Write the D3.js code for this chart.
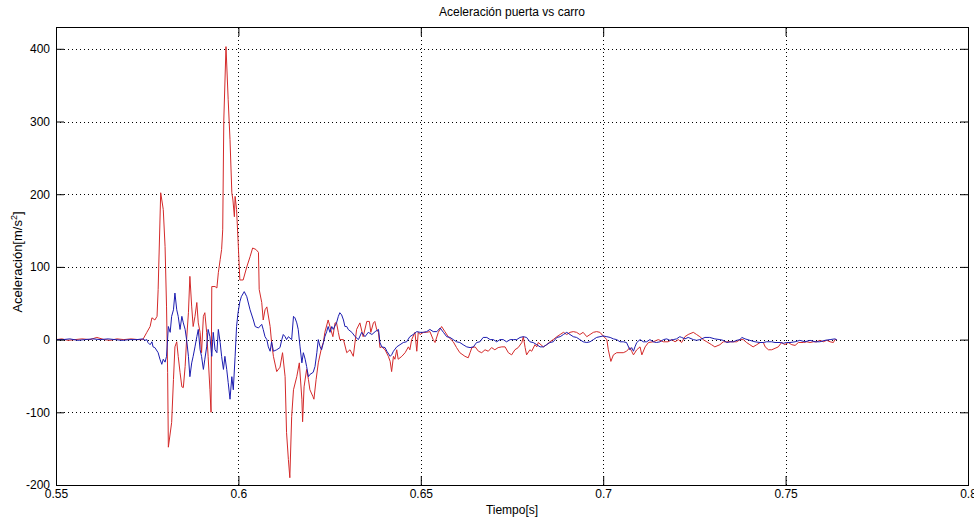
<!DOCTYPE html>
<html>
<head>
<meta charset="utf-8">
<script src="https://cdn.jsdelivr.net/npm/d3@7"></script>
<style>
  body { margin: 0; background: #fff; }
  svg text { font-family: "Liberation Sans Narrow", "Arial Narrow", "Liberation Sans", Arial, sans-serif; fill: #000; }
</style>
</head>
<body>
<svg id="svg"></svg>
<script>
// tick values
const xTicks = [0.55, 0.6, 0.65, 0.7, 0.75, 0.8];
const yTicks = [-200, -100, 0, 100, 200, 300, 400];

// carro (red)
const timeRed = [0.5500,0.5516,0.5533,0.5552,0.5571,0.5593,0.5612,0.5632,0.5648,0.5667,0.5686,0.5706,0.5725,0.5738,
  0.5749,0.5758,0.5763,0.5771,0.5777,0.5780,0.5787,0.5794,0.5799,0.5803,0.5806,0.5808,0.5817,0.5822,0.5826,0.5831,
  0.5835,0.5840,0.5845,0.5849,0.5854,0.5858,0.5863,0.5867,0.5872,0.5876,0.5881,0.5886,0.5890,0.5895,0.5899,0.5904,
  0.5908,0.5913,0.5917,0.5922,0.5925,0.5927,0.5936,0.5941,0.5945,0.5950,0.5954,0.5957,0.5960,0.5966,0.5972,0.5977,
  0.5982,0.5985,0.5989,0.5991,0.5995,0.5999,0.6004,0.6013,0.6023,0.6032,0.6039,0.6048,0.6055,0.6057,0.6064,0.6068,
  0.6073,0.6078,0.6087,0.6091,0.6096,0.6105,0.6114,0.6121,0.6128,0.6132,0.6137,0.6141,0.6146,0.6151,0.6160,0.6167,
  0.6174,0.6176,0.6180,0.6187,0.6192,0.6196,0.6204,0.6207,0.6213,0.6219,0.6228,0.6233,0.6237,0.6246,0.6251,0.6259,
  0.6265,0.6269,0.6274,0.6278,0.6288,0.6297,0.6306,0.6315,0.6324,0.6333,0.6342,0.6352,0.6359,0.6363,0.6370,0.6374,
  0.6379,0.6384,0.6388,0.6393,0.6402,0.6411,0.6416,0.6420,0.6425,0.6429,0.6434,0.6438,0.6448,0.6457,0.6466,0.6470,
  0.6475,0.6484,0.6489,0.6493,0.6498,0.6507,0.6516,0.6525,0.6534,0.6539,0.6548,0.6557,0.6566,0.6575,0.6589,0.6598,
  0.6607,0.6621,0.6630,0.6635,0.6640,0.6649,0.6658,0.6667,0.6676,0.6685,0.6694,0.6703,0.6712,0.6722,0.6731,0.6740,
  0.6749,0.6758,0.6767,0.6777,0.6781,0.6786,0.6790,0.6799,0.6804,0.6813,0.6818,0.6822,0.6836,0.6845,0.6854,0.6863,
  0.6873,0.6882,0.6891,0.6900,0.6909,0.6918,0.6927,0.6936,0.6945,0.6955,0.6964,0.6973,0.6982,0.6991,0.7000,0.7010,
  0.7014,0.7021,0.7028,0.7037,0.7046,0.7055,0.7064,0.7073,0.7078,0.7083,0.7092,0.7101,0.7106,0.7115,0.7124,0.7137,
  0.7151,0.7165,0.7178,0.7188,0.7197,0.7206,0.7215,0.7224,0.7233,0.7247,0.7256,0.7265,0.7274,0.7284,0.7297,0.7306,
  0.7320,0.7329,0.7339,0.7348,0.7366,0.7375,0.7384,0.7393,0.7402,0.7411,0.7421,0.7430,0.7439,0.7444,0.7453,0.7462,
  0.7471,0.7480,0.7489,0.7498,0.7507,0.7517,0.7526,0.7535,0.7549,0.7558,0.7567,0.7576,0.7585,0.7594,0.7603,0.7613,
  0.7622,0.7631,0.7635,0.7640];
const accRed = [0,1,-1,0,1,0,3,0,-1,1,0,1,0,0,
  10,18,30,27,32,69,202,179,128,45,-45,-148,-114,-55,-10,-3,
  -23,-45,-65,-66,-37,0,37,87,45,18,32,51,23,10,-18,32,
  37,10,-23,-69,-100,73,73,71,92,110,124,151,302,403,330,275,
  202,192,169,197,179,137,82,82,100,114,126,124,120,69,51,27,
  41,45,18,-4,-23,-44,-38,-18,-51,-128,-165,-190,-106,-69,-51,-32,
  -82,-113,-65,-41,-55,-69,-78,-82,-55,-32,-11,-4,10,27,18,4,
  23,23,10,0,0,-18,-14,-23,14,23,4,25,25,10,23,25,
  14,10,-11,-10,-14,-23,-30,-44,-23,-27,-14,-27,-23,-18,-10,-14,
  0,10,-16,10,7,10,10,11,0,-4,10,18,11,4,-3,-11,
  -18,-23,-25,-18,-11,-10,-16,-18,-14,-16,-11,-14,-11,-10,-10,-18,
  -21,-14,-11,-4,4,-11,-21,-14,-16,-7,-10,-4,-10,-7,-3,0,
  4,7,10,7,10,11,10,7,10,4,7,10,11,10,5,0,
  -14,-30,-21,-18,-18,-18,-16,-11,-16,-21,-14,-10,-21,-10,-4,-3,
  0,-3,-3,0,-3,0,-4,4,7,10,7,4,0,-3,-7,-10,
  -7,-3,-3,-3,-3,0,0,-4,-7,-10,-7,-4,-4,-10,-14,-14,
  -12,-10,-4,-7,-4,-7,-8,-4,-4,-3,-4,-3,-3,-1,-3,-1,
  -3,-4,0,0];

// puerta (blue)
const timeBlue = [0.5500,0.5519,0.5538,0.5560,0.5579,0.5601,0.5621,0.5643,0.5662,0.5681,0.5703,0.5722,0.5738,0.5744,
  0.5749,0.5752,0.5758,0.5763,0.5766,0.5771,0.5780,0.5785,0.5790,0.5794,0.5799,0.5803,0.5808,0.5813,0.5817,0.5822,
  0.5826,0.5831,0.5835,0.5840,0.5845,0.5849,0.5854,0.5858,0.5863,0.5867,0.5872,0.5876,0.5881,0.5886,0.5890,0.5895,
  0.5899,0.5904,0.5908,0.5913,0.5917,0.5922,0.5927,0.5931,0.5936,0.5941,0.5945,0.5950,0.5954,0.5959,0.5963,0.5968,
  0.5972,0.5977,0.5982,0.5986,0.5991,0.5995,0.5999,0.6004,0.6008,0.6016,0.6023,0.6032,0.6041,0.6046,0.6055,0.6064,
  0.6068,0.6073,0.6078,0.6082,0.6087,0.6091,0.6096,0.6105,0.6114,0.6119,0.6123,0.6128,0.6132,0.6137,0.6146,0.6151,
  0.6155,0.6160,0.6164,0.6169,0.6174,0.6178,0.6183,0.6187,0.6192,0.6196,0.6205,0.6210,0.6215,0.6219,0.6224,0.6228,
  0.6233,0.6237,0.6242,0.6246,0.6251,0.6256,0.6260,0.6269,0.6274,0.6278,0.6283,0.6288,0.6292,0.6297,0.6301,0.6311,
  0.6320,0.6329,0.6338,0.6347,0.6356,0.6366,0.6375,0.6384,0.6388,0.6393,0.6402,0.6407,0.6416,0.6420,0.6425,0.6434,
  0.6443,0.6452,0.6461,0.6470,0.6479,0.6489,0.6498,0.6507,0.6516,0.6525,0.6534,0.6544,0.6553,0.6562,0.6571,0.6580,
  0.6589,0.6598,0.6607,0.6616,0.6626,0.6635,0.6644,0.6653,0.6662,0.6671,0.6681,0.6690,0.6699,0.6708,0.6717,0.6726,
  0.6735,0.6745,0.6754,0.6763,0.6772,0.6781,0.6790,0.6799,0.6808,0.6818,0.6827,0.6836,0.6845,0.6854,0.6863,0.6873,
  0.6882,0.6891,0.6900,0.6909,0.6918,0.6927,0.6936,0.6945,0.6955,0.6964,0.6973,0.6982,0.6991,0.7000,0.7010,0.7019,
  0.7028,0.7037,0.7046,0.7055,0.7064,0.7073,0.7078,0.7083,0.7087,0.7092,0.7101,0.7110,0.7119,0.7128,0.7137,0.7146,
  0.7156,0.7165,0.7174,0.7183,0.7192,0.7201,0.7210,0.7215,0.7224,0.7233,0.7247,0.7256,0.7265,0.7279,0.7292,0.7306,
  0.7320,0.7329,0.7339,0.7348,0.7357,0.7366,0.7375,0.7380,0.7389,0.7402,0.7416,0.7430,0.7439,0.7448,0.7462,0.7471,
  0.7485,0.7494,0.7503,0.7512,0.7526,0.7539,0.7553,0.7567,0.7581,0.7594,0.7608,0.7622,0.7635,0.7640];
const accBlue = [0,0,1,-1,0,1,0,1,0,-1,0,0,1,-1,
  0,-4,-7,-3,-10,-11,-18,-27,-34,-27,-31,-23,18,10,32,41,
  64,41,32,14,32,23,14,0,-23,-51,-32,-23,-10,4,14,-14,
  -23,-41,-27,-10,14,4,-23,10,-14,-18,14,-4,-23,-41,-23,-41,
  -59,-82,-51,-69,-23,18,37,52,59,66,59,41,27,18,16,21,
  14,4,0,-10,-16,-3,-16,-14,-11,0,7,4,0,4,0,32,
  30,23,14,-10,-32,-18,-27,-37,-51,-48,-45,-37,-18,0,-10,-14,
  -4,4,11,18,10,18,14,23,32,37,34,27,18,18,14,10,
  4,0,10,4,10,7,11,14,-4,-10,-11,-16,-23,-21,-16,-10,
  -7,-4,-3,4,7,11,10,10,11,14,11,11,16,10,4,3,
  0,-3,-4,-7,-10,-11,-10,-4,-3,3,3,0,0,-3,0,0,
  -3,0,0,0,3,4,3,-3,-4,-7,-10,-10,-7,-4,-3,3,
  4,7,10,7,4,3,0,-3,-4,-3,0,3,4,5,4,3,
  1,0,-3,-3,-4,-14,-11,-16,-10,-4,0,-3,-3,0,-3,-4,
  -3,0,1,-1,0,1,4,3,1,3,0,-1,0,3,3,1,
  0,-1,-4,-3,-3,-1,0,3,1,-1,-3,-4,-4,-3,-3,-4,
  -4,-5,-4,-4,-3,-1,-3,-1,-3,-3,-1,0,1,0];

const width = 974, height = 518;
const margin = { top: 27, right: 6, bottom: 33, left: 56 };

const svg = d3.select("svg")
    .attr("width", width)
    .attr("height", height);

const x = d3.scaleLinear()
    .domain([0.55, 0.8])
    .range([margin.left, width - margin.right]);

const y = d3.scaleLinear()
    .domain([-200, 430])
    .range([height - margin.bottom, margin.top]);

// dotted grid
svg.append("g")
    .selectAll("line")
    .data(xTicks.slice(1, -1))
    .join("line")
        .attr("x1", d => Math.round(x(d)) + 0.5)
        .attr("x2", d => Math.round(x(d)) + 0.5)
        .attr("y1", y.range()[0])
        .attr("y2", y.range()[1])
        .attr("stroke", "#000")
        .attr("stroke-width", 1)
        .attr("stroke-dasharray", "1,3");

svg.append("g")
    .selectAll("line")
    .data(yTicks.slice(1))
    .join("line")
        .attr("x1", x.range()[0])
        .attr("x2", x.range()[1])
        .attr("y1", d => Math.round(y(d)) + 0.5)
        .attr("y2", d => Math.round(y(d)) + 0.5)
        .attr("stroke", "#000")
        .attr("stroke-width", 1)
        .attr("stroke-dasharray", "1,3");

// data lines
const line = d3.line()
    .x(d => x(d[0]))
    .y(d => y(d[1]));

svg.append("path")
    .datum(d3.zip(timeRed, accRed))
    .attr("fill", "none")
    .attr("stroke", "#d42a2a")
    .attr("stroke-width", 1)
    .attr("stroke-linejoin", "round")
    .attr("d", line);

svg.append("path")
    .datum(d3.zip(timeBlue, accBlue))
    .attr("fill", "none")
    .attr("stroke", "#1c1cb0")
    .attr("stroke-width", 1)
    .attr("stroke-linejoin", "round")
    .attr("d", line);

// axes, ticks pointing inward
const fmt = d => String(d);

svg.append("g")
    .attr("transform", `translate(0,${y.range()[0]})`)
    .call(d3.axisBottom(x).tickValues(xTicks).tickSize(-9).tickPadding(4).tickFormat(fmt))
    .call(g => g.select(".domain").remove());

svg.append("g")
    .attr("transform", `translate(0,${y.range()[1]})`)
    .call(d3.axisTop(x).tickValues(xTicks).tickSize(-9).tickFormat(""))
    .call(g => g.select(".domain").remove());

svg.append("g")
    .attr("transform", `translate(${x.range()[0]},0)`)
    .call(d3.axisLeft(y).tickValues(yTicks).tickSize(-8).tickPadding(6).tickFormat(fmt))
    .call(g => g.select(".domain").remove());

svg.append("g")
    .attr("transform", `translate(${x.range()[1]},0)`)
    .call(d3.axisRight(y).tickValues(yTicks).tickSize(-8).tickFormat(""))
    .call(g => g.select(".domain").remove());

svg.selectAll(".tick text")
    .attr("font-size", 12)
    .attr("font-family", null);

// box
svg.append("rect")
    .attr("x", x.range()[0] + 0.5)
    .attr("y", y.range()[1] + 0.5)
    .attr("width", x.range()[1] - x.range()[0])
    .attr("height", y.range()[0] - y.range()[1])
    .attr("fill", "none")
    .attr("stroke", "#000")
    .attr("stroke-width", 1);

// labels
const cx = (x.range()[0] + x.range()[1]) / 2;
const cy = (y.range()[0] + y.range()[1]) / 2;

svg.append("text")
    .attr("x", cx)
    .attr("y", 16)
    .attr("text-anchor", "middle")
    .attr("font-size", 12)
    .text("Aceleración puerta vs carro");

svg.append("text")
    .attr("x", cx)
    .attr("y", 514)
    .attr("text-anchor", "middle")
    .attr("font-size", 12)
    .text("Tiempo[s]");

svg.append("text")
    .attr("transform", `translate(22,${cy + 6}) rotate(-90)`)
    .attr("text-anchor", "middle")
    .attr("font-size", 13)
    .style("font-family", "'Liberation Sans', Arial, sans-serif")
    .html("Aceleración[m/s<tspan baseline-shift='super' font-size='9'>2</tspan>]");
</script>
</body>
</html>
